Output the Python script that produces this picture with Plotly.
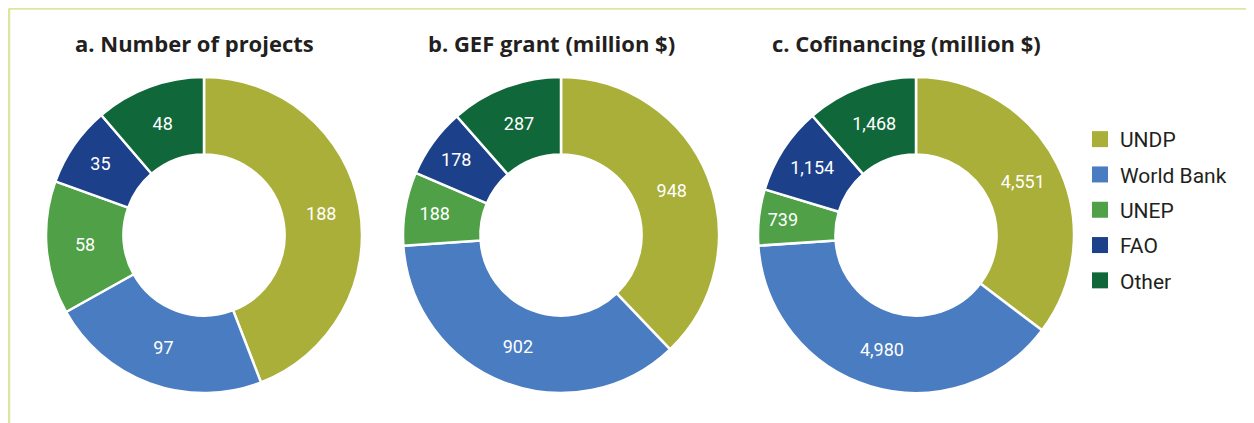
import plotly.graph_objects as go

agencies = ['UNDP', 'World Bank', 'UNEP', 'FAO', 'Other']
colors = ['#a9af38', '#497cc0', '#4fa046', '#1c418a', '#10683a']

projects = [188, 97, 58, 35, 48]
gef_grant = [948, 902, 188, 178, 287]
cofinancing = [4551, 4980, 739, 1154, 1468]

titles = ['a. Number of projects', 'b. GEF grant (million $)', 'c. Cofinancing (million $)']
series = [projects, gef_grant, cofinancing]

W, H = 1254, 423
OFF = 8  # page body margin


def px(x):
    return (x - OFF) / W


def py(y):
    return 1 - (y - OFF) / H


centers = [204, 561, 916]
cy = 235
r = 158

fig = go.Figure()

for i, vals in enumerate(series):
    cx = centers[i]
    fig.add_trace(go.Pie(
        labels=agencies, values=vals, hole=0.51, sort=False,
        direction='clockwise', rotation=0,
        marker=dict(colors=colors, line=dict(color='white', width=2.5)),
        texttemplate='%{value:,}', textposition='inside',
        insidetextorientation='horizontal',
        textfont=dict(color='white', size=18, family='Roboto'),
        showlegend=False, hoverinfo='label+value',
        domain=dict(x=[px(cx - r), px(cx + r)], y=[py(cy + r), py(cy - r)]),
    ))
    fig.add_annotation(text='<b>' + titles[i] + '</b>', x=px(cx - 10), y=py(43),
                       xref='paper', yref='paper', xanchor='center', yanchor='middle',
                       showarrow=False,
                       font=dict(size=22, color='#231f20', family='Open Sans'))

# legend entries
for name, c in zip(agencies, colors):
    fig.add_trace(go.Scatter(x=[None], y=[None], mode='markers', name=name,
                             legendgroup=name,
                             marker=dict(symbol='square', size=16, color=c)))

fig.update_layout(
    width=W, height=H,
    margin=dict(l=0, r=0, t=0, b=0, autoexpand=False),
    paper_bgcolor='white', plot_bgcolor='white',
    xaxis=dict(visible=False), yaxis=dict(visible=False),
    legend=dict(x=px(1080), y=py(119), xanchor='left', yanchor='top',
                font=dict(size=21, color='#231f20', family='Roboto'),
                tracegroupgap=5, itemwidth=30),
    shapes=[
        dict(type='line', xref='paper', yref='paper', x0=px(9), x1=1, y0=py(8.5), y1=py(8.5),
             line=dict(color='#d9e89f', width=2.5)),
        dict(type='line', xref='paper', yref='paper', x0=px(9), x1=px(9), y0=0, y1=py(8.5),
             line=dict(color='#d9e89f', width=2.5)),
    ],
)

fig.write_html('out.html')
